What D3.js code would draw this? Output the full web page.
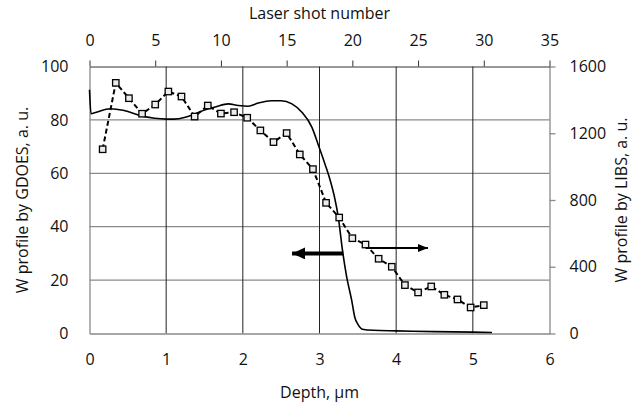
<!DOCTYPE html>
<html><head><meta charset="utf-8">
<script src="https://cdn.jsdelivr.net/npm/d3@7"></script>
<style>
body{margin:0;background:#fff}
text{font-family:"Open Sans",sans-serif;fill:#111}
</style>
</head><body>
<svg id="c" width="638" height="409"></svg>
<script>
// ---- data ----
const depthTicks = [0, 1, 2, 3, 4, 5, 6];
const shotTicks = [0, 5, 10, 15, 20, 25, 30, 35];
const gdoesTicks = [0, 20, 40, 60, 80, 100];
const libsTicks = [0, 400, 800, 1200, 1600];

const libsShots = [1,2,3,4,5,6,7,8,9,10,11,12,13,14,15,16,17,18,19,20,21,22,23,24,25,26,27,28,29,30];
const libsValues = [1104,1502,1410,1317,1372,1450,1420,1300,1366,1318,1326,1293,1217,1147,1201,1073,985,783,695,571,533,448,400,290,246,282,232,204,156,170];

const gdoesDepth = [0.00,0.02,0.09,0.27,0.44,0.66,0.85,1.00,1.10,1.25,1.38,1.51,1.64,1.81,1.94,2.07,2.20,2.37,2.50,2.64,2.77,2.90,2.98,3.07,3.14,3.20,3.245,3.30,3.355,3.42,3.46,3.50,3.56,3.70,4.00,4.50,5.00,5.25];
const gdoesW     = [91.3,82.3,82.9,84.2,83.6,81.6,80.6,80.3,80.3,81.0,82.3,83.8,84.8,86.0,85.4,85.1,86.3,87.2,87.2,86.0,82.9,77.3,71.0,63.6,57.3,50.5,43.6,31.1,21.1,12.4,6.1,3.5,1.6,1.2,1.0,0.7,0.5,0.4];

// arrows (data coordinates)
const arrowGdoes = {depth: [3.31, 2.59], w: 30};
const arrowLibs = {shot: [21.0, 25.9], libs: 512};

// ---- layout ----
const L = 89.5, R = 549.5, T = 66.5, B = 333.5;
const svg = d3.select("#c");

const x = d3.scaleLinear().domain([0, 6]).range([L, R]);
const xTop = d3.scaleLinear().domain([0, 35]).range([L, R]);
const y = d3.scaleLinear().domain([0, 100]).range([B, T]);
const yR = d3.scaleLinear().domain([0, 1600]).range([B, T]);

// gridlines
svg.append("g").selectAll("line").data(gdoesTicks.filter(d => d > 0 && d < 100)).join("line")
  .attr("x1", L).attr("x2", R).attr("y1", d => y(d)).attr("y2", d => y(d))
  .attr("stroke", "#8a8a8a").attr("stroke-width", 1.3);
svg.append("g").selectAll("line").data(depthTicks.filter(d => d > 0 && d < 6)).join("line")
  .attr("x1", d => x(d)).attr("x2", d => x(d)).attr("y1", T).attr("y2", B)
  .attr("stroke", "#222").attr("stroke-width", 1);

// axes
const fs = "16px";
const gB = svg.append("g").attr("transform", `translate(0,${B})`)
  .call(d3.axisBottom(x).tickValues(depthTicks).tickSize(0).tickPadding(20).tickFormat(d3.format("d")));
gB.select(".domain").attr("stroke", "#8a8a8a").attr("stroke-width", 1.3);
const gL = svg.append("g").attr("transform", `translate(${L},0)`)
  .call(d3.axisLeft(y).tickValues(gdoesTicks).tickSize(0).tickPadding(21).tickFormat(d3.format("d")));
gL.select(".domain").attr("stroke", "#8a8a8a").attr("stroke-width", 1.3);
const gR = svg.append("g").attr("transform", `translate(${R},0)`)
  .call(d3.axisRight(yR).tickValues(libsTicks).tickSize(6).tickSizeOuter(0).tickPadding(14).tickFormat(d3.format("d")));
gR.select(".domain").attr("stroke", "#8a8a8a").attr("stroke-width", 1.3);
gR.selectAll(".tick line").attr("stroke", "#8a8a8a").attr("stroke-width", 1.3);
const gT = svg.append("g").attr("transform", `translate(0,${T})`)
  .call(d3.axisTop(xTop).tickValues(shotTicks).tickSize(6).tickSizeOuter(0).tickPadding(15).tickFormat(d3.format("d")));
gT.select(".domain").attr("stroke", "#333").attr("stroke-width", 1);
gT.selectAll(".tick line").attr("stroke", "#333");
svg.selectAll(".tick text").style("font-size", fs).style("font-family", "'Open Sans',sans-serif").attr("fill", "#111");

// GDOES solid line
svg.append("path")
  .datum(gdoesDepth.map((d, i) => [d, gdoesW[i]]))
  .attr("fill", "none").attr("stroke", "#000").attr("stroke-width", 1.6)
  .attr("d", d3.line().x(d => x(d[0])).y(d => y(d[1])).curve(d3.curveMonotoneX));

// LIBS dashed line + markers
const libsData = libsShots.map((s, i) => [s, libsValues[i]]);
svg.append("path").datum(libsData)
  .attr("fill", "none").attr("stroke", "#000").attr("stroke-width", 2).attr("stroke-dasharray", "5,3")
  .attr("d", d3.line().x(d => xTop(d[0])).y(d => yR(d[1])));
svg.append("g").selectAll("rect").data(libsData).join("rect")
  .attr("x", d => xTop(d[0]) - 3.2).attr("y", d => yR(d[1]) - 3.2)
  .attr("width", 6.4).attr("height", 6.4)
  .attr("fill", "#ececec").attr("stroke", "#000").attr("stroke-width", 1.3);

// arrows
const defs = svg.append("defs");
defs.append("marker").attr("id", "hBig").attr("markerUnits", "userSpaceOnUse")
  .attr("viewBox", "0 0 13 12").attr("refX", 13).attr("refY", 6)
  .attr("markerWidth", 13).attr("markerHeight", 12).attr("orient", "auto")
  .append("path").attr("d", "M0,0L13,6L0,12Z").attr("fill", "#000");
defs.append("marker").attr("id", "hSmall").attr("markerUnits", "userSpaceOnUse")
  .attr("viewBox", "0 0 10 8").attr("refX", 10).attr("refY", 4)
  .attr("markerWidth", 10).attr("markerHeight", 8).attr("orient", "auto")
  .append("path").attr("d", "M0,0L10,4L0,8Z").attr("fill", "#000");

svg.append("line")
  .attr("x1", x(arrowGdoes.depth[0])).attr("x2", x(arrowGdoes.depth[1]) + 4)
  .attr("y1", y(arrowGdoes.w)).attr("y2", y(arrowGdoes.w))
  .attr("stroke", "#000").attr("stroke-width", 4).attr("marker-end", "url(#hBig)");
svg.append("line")
  .attr("x1", xTop(arrowLibs.shot[0])).attr("x2", xTop(arrowLibs.shot[1]) - 2)
  .attr("y1", yR(arrowLibs.libs)).attr("y2", yR(arrowLibs.libs))
  .attr("stroke", "#000").attr("stroke-width", 2).attr("marker-end", "url(#hSmall)");

// titles
svg.append("text").attr("x", (L + R) / 2).attr("y", 19).attr("text-anchor", "middle")
  .style("font-size", fs).text("Laser shot number");
svg.append("text").attr("x", (L + R) / 2).attr("y", 398).attr("text-anchor", "middle")
  .style("font-size", fs).text("Depth, \u03bcm");
svg.append("text").attr("transform", `translate(28,${(T + B) / 2}) rotate(-90)`).attr("text-anchor", "middle")
  .style("font-size", fs).text("W profile by GDOES, a. u.");
svg.append("text").attr("transform", `translate(627,${(T + B) / 2}) rotate(-90)`).attr("text-anchor", "middle")
  .style("font-size", fs).text("W profile by LIBS, a. u.");
</script>
</body></html>
